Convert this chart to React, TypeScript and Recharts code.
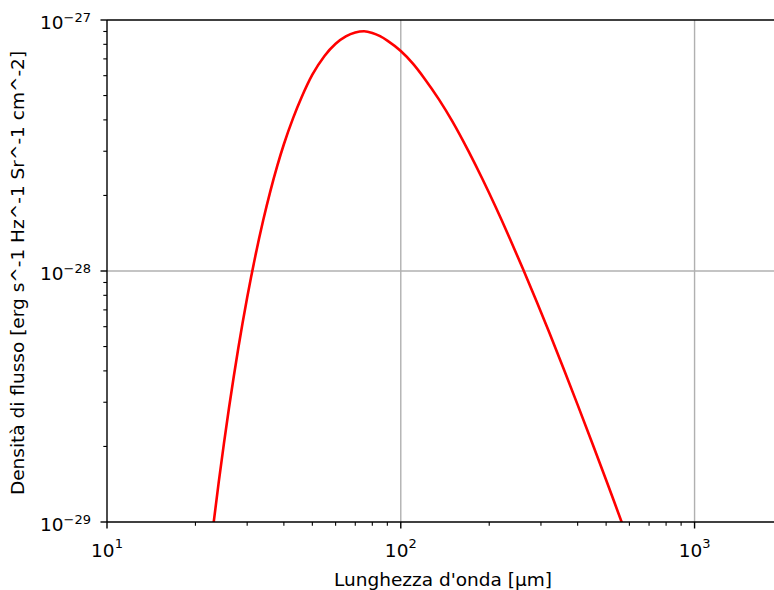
import { LineChart, Line, XAxis, YAxis, CartesianGrid, ReferenceLine } from "recharts";

// wavelength [µm] and flux density
const wavelengths = [
  23, 24, 25, 26, 27, 28, 30, 32, 34, 36, 38, 40, 43, 46, 50, 55, 60, 65, 70,
  75, 80, 85, 90, 100, 110, 120, 135, 150, 170, 190, 210, 235, 260, 290, 320,
  360, 400, 450, 500, 530, 570,
];
const fluxes = [
  9.67e-30, 1.438e-29, 2.053e-29, 2.832e-29, 3.791e-29, 4.945e-29, 7.84e-29,
  1.151e-28, 1.589e-28, 2.087e-28, 2.63e-28, 3.198e-28, 4.064e-28, 4.931e-28,
  6.052e-28, 7.192e-28, 8.041e-28, 8.604e-28, 8.917e-28, 9.02e-28, 8.88e-28,
  8.62e-28, 8.28e-28, 7.52e-28, 6.7e-28, 5.877e-28, 4.815e-28, 3.937e-28,
  3.002e-28, 2.314e-28, 1.806e-28, 1.348e-28, 1.025e-28, 7.56e-29, 5.697e-29,
  4.025e-29, 2.929e-29, 2.041e-29, 1.47e-29, 1.223e-29, 9.7e-30,
];

const xTicks = [
  10, 20, 30, 40, 50, 60, 70, 80, 90, 100, 200, 300, 400, 500, 600, 700, 800,
  900, 1000, 2000,
];
const xMajor = [10, 100, 1000];
const xMajorLabels = ["1", "2", "3"];

const yTicks = [
  1e-29, 2e-29, 3e-29, 4e-29, 5e-29, 6e-29, 7e-29, 8e-29, 9e-29, 1e-28, 2e-28,
  3e-28, 4e-28, 5e-28, 6e-28, 7e-28, 8e-28, 9e-28, 1e-27,
];
const yMajor = [1e-29, 1e-28, 1e-27];
const yMajorLabels = ["\u221229", "\u221228", "\u221227"];

const data = wavelengths.map((w, i) => ({ w, flux: fluxes[i] }));

const FONT = "'DejaVu Sans', sans-serif";

function XTick(props: any) {
  const { x, y, payload } = props;
  const idx = xMajor.indexOf(payload.value);
  const major = idx >= 0;
  return (
    <g>
      <line x1={x} x2={x} y1={y} y2={y + (major ? 6.5 : 3.7)} stroke="#000" strokeWidth={major ? 1.4 : 1.1} />
      {major && (
        <text x={x} y={y + 35} textAnchor="middle" fontSize={18.5} fill="#000" fontFamily={FONT}>
          10
          <tspan dy={-9} fontSize={13}>{xMajorLabels[idx]}</tspan>
        </text>
      )}
    </g>
  );
}

function YTick(props: any) {
  const { x, y, payload } = props;
  const idx = yMajor.findIndex((v) => Math.abs(v - payload.value) / v < 1e-6);
  const major = idx >= 0;
  return (
    <g>
      <line x1={x - (major ? 6.5 : 3.7)} x2={x} y1={y} y2={y} stroke="#000" strokeWidth={major ? 1.4 : 1.1} />
      {major && (
        <text x={x - 16} y={y + 8.5} textAnchor="end" fontSize={18.5} fill="#000" fontFamily={FONT}>
          10
          <tspan dy={-7} fontSize={13}>{yMajorLabels[idx]}</tspan>
        </text>
      )}
    </g>
  );
}

export default function App() {
  return (
    <div style={{ position: "absolute", left: 0, top: 0, width: 774, height: 590, overflow: "hidden", background: "#fff" }}>
      <LineChart
        width={783}
        height={590}
        data={data}
        margin={{ top: 20, right: 0, bottom: 0, left: 0 }}
        style={{ fontFamily: FONT }}
      >
        <CartesianGrid
          stroke="#b0b0b0"
          strokeWidth={1.4}
          verticalValues={[100, 1000]}
          horizontalValues={[1e-28]}
        />
        <XAxis
          dataKey="w"
          type="number"
          scale="log"
          domain={[10, 2000]}
          allowDataOverflow
          ticks={xTicks}
          interval={0}
          tick={<XTick />}
          tickLine={false}
          tickSize={0}
          tickMargin={0}
          height={68}
          axisLine={{ stroke: "#000", strokeWidth: 1.4 }}
        />
        <YAxis
          dataKey="flux"
          type="number"
          scale="log"
          domain={[1e-29, 1e-27]}
          allowDataOverflow
          ticks={yTicks}
          interval={0}
          tick={<YTick />}
          tickLine={false}
          tickSize={0}
          tickMargin={0}
          width={107}
          axisLine={{ stroke: "#000", strokeWidth: 1.4 }}
        />
        <ReferenceLine y={1e-27} stroke="#000" strokeWidth={1.4} />
        <Line
          type="monotone"
          dataKey="flux"
          stroke="#ff0000"
          strokeWidth={2.6}
          dot={false}
          isAnimationActive={false}
        />
      </LineChart>
      <svg
        width={774}
        height={590}
        style={{ position: "absolute", left: 0, top: 0, pointerEvents: "none" }}
      >
        <text x={443} y={586} textAnchor="middle" fontSize={18.5} fill="#000" fontFamily={FONT}>
          Lunghezza d'onda [µm]
        </text>
        <text
          x={24}
          y={273}
          textAnchor="middle"
          fontSize={18.5}
          fill="#000"
          fontFamily={FONT}
          transform="rotate(-90 24 273)"
        >
          Densità di flusso [erg s^-1 Hz^-1 Sr^-1 cm^-2]
        </text>
      </svg>
    </div>
  );
}
